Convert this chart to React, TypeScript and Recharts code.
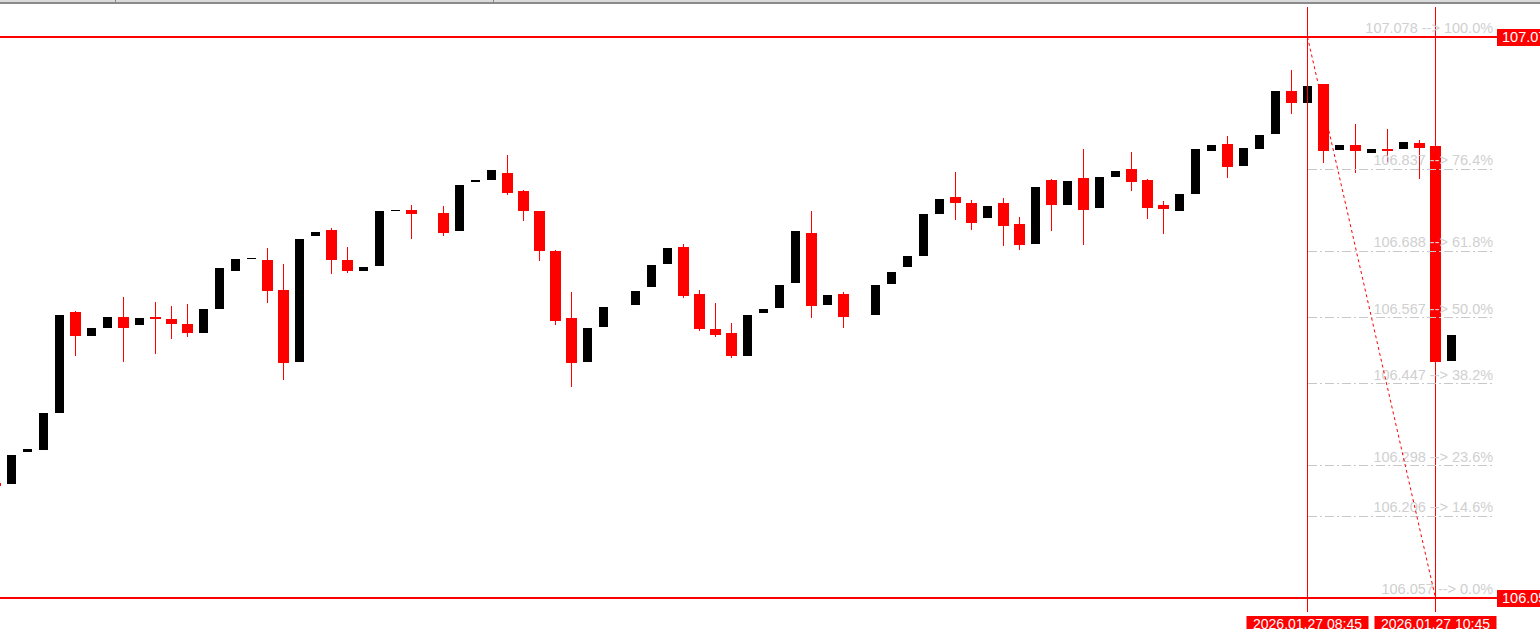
import React from 'react';
import { ComposedChart, Bar, XAxis, YAxis, ReferenceLine } from 'recharts';

// ---- data ----
const barIndex = [
  -1, 0, 1, 2, 3, 4, 5, 6, 7, 8, 9,
  10, 11, 12, 13, 14, 15, 16, 17, 18, 19,
  20, 21, 22, 23, 24, 25, 27, 28, 29,
  30, 31, 32, 33, 34, 35, 36, 37, 39,
  40, 41, 42, 43, 44, 45, 46, 47, 48, 49,
  50, 51, 52, 54, 55, 56, 57, 58, 59,
  60, 61, 62, 63, 64, 65, 66, 67, 68, 69,
  70, 71, 72, 73, 74, 75, 76, 77, 78, 79,
  80, 81, 82, 83, 84, 85, 86, 87, 88, 89, 90,
];
const opens = [
  106.266, 106.264, 106.323, 106.326, 106.394, 106.577, 106.534, 106.548, 106.568, 106.554, 106.568,
  106.565, 106.556, 106.539, 106.583, 106.652, 106.674, 106.672, 106.617, 106.486, 106.716,
  106.727, 106.672, 106.652, 106.661, 106.761, 106.763, 106.758, 106.725, 106.814,
  106.818, 106.830, 106.798, 106.761, 106.688, 106.567, 106.486, 106.550, 106.590,
  106.623, 106.665, 106.696, 106.610, 106.547, 106.539, 106.497, 106.576, 106.585, 106.630,
  106.721, 106.590, 106.610, 106.572, 106.628, 106.659, 106.679, 106.756, 106.787,
  106.776, 106.749, 106.776, 106.738, 106.701, 106.818, 106.772, 106.821, 106.767, 106.823,
  106.838, 106.818, 106.772, 106.761, 106.792, 106.870, 106.883, 106.843, 106.874, 106.901,
  106.980, 106.958, 106.992, 106.872, 106.881, 106.867, 106.874, 106.874, 106.885, 106.880, 106.488,
];
const highs = [
  106.267, null, null, null, null, 106.579, null, null, 106.605, null, 106.596,
  106.588, 106.592, null, null, null, null, 106.694, 106.665, null, null,
  106.730, 106.696, null, null, null, 106.772, 106.770, null, null,
  null, 106.863, 106.799, 106.762, 106.690, 106.614, null, null, null,
  null, null, 106.701, 106.617, 106.594, 106.557, null, null, null, null,
  106.761, null, 106.614, null, null, null, null, null, 106.832,
  106.781, null, 106.785, 106.750, null, 106.819, null, 106.874, null, null,
  106.869, 106.819, 106.780, null, null, null, 106.898, null, null, null,
  107.018, 107.078, 106.993, null, 106.920, null, 106.911, null, 106.891, 106.885, null,
];
const lows = [
  106.260, null, null, null, null, 106.497, null, null, 106.486, null, 106.501,
  106.528, 106.532, null, null, null, null, 106.594, 106.454, null, null,
  106.647, 106.649, null, null, null, 106.710, 106.716, null, null,
  null, 106.790, 106.743, 106.670, 106.554, 106.441, null, null, null,
  null, null, 106.603, 106.543, 106.532, 106.494, null, null, null, null,
  106.567, null, 106.548, null, null, null, null, null, 106.745,
  106.727, null, 106.698, 106.690, null, 106.725, null, 106.699, null, null,
  106.798, 106.747, 106.719, null, null, null, 106.821, null, null, null,
  106.938, null, 106.849, null, 106.830, null, 106.850, null, 106.820, 106.057, null,
];
const closes = [
  106.261, 106.317, 106.328, 106.394, 106.572, 106.534, 106.548, 106.568, 106.548, 106.567, 106.565,
  106.556, 106.539, 106.583, 106.658, 106.674, 106.676, 106.616, 106.485, 106.710, 106.723,
  106.672, 106.652, 106.659, 106.761, 106.763, 106.756, 106.721, 106.809, 106.818,
  106.836, 106.794, 106.761, 106.688, 106.561, 106.485, 106.548, 106.587, 106.616,
  106.663, 106.694, 106.607, 106.547, 106.536, 106.497, 106.572, 106.583, 106.627, 106.725,
  106.588, 106.608, 106.568, 106.627, 106.650, 106.679, 106.756, 106.783, 106.776,
  106.739, 106.770, 106.734, 106.699, 106.805, 106.772, 106.816, 106.763, 106.823, 106.834,
  106.814, 106.767, 106.765, 106.792, 106.874, 106.881, 106.841, 106.876, 106.900, 106.980,
  106.958, 106.989, 106.870, 106.881, 106.870, 106.874, 106.870, 106.887, 106.876, 106.486, 106.536,
];

const fibPrices = [107.078, 106.837, 106.688, 106.567, 106.447, 106.298, 106.206, 106.057];
const fibLabels = ['100.0%', '76.4%', '61.8%', '50.0%', '38.2%', '23.6%', '14.6%', '0.0%'];
const fibStartBar = 81;
const fibEndBar = 89;
const fibHigh = 107.078;
const fibLow = 106.057;
const timeLabels = ['2026.01.27 08:45', '2026.01.27 10:45'];
const xDomain = [-0.71875, 92.84375];
const yDomain = [106.0315, 107.1326];
const fibLineEnd = 92.6;

const data = barIndex.map((i, k) => {
  const o = opens[k];
  const c = closes[k];
  const h = highs[k] ?? Math.max(o, c);
  const l = lows[k] ?? Math.min(o, c);
  return { i, o, c, h, l };
});

const RED = '#ff0000';
const FONT = '"Liberation Sans", Arial, sans-serif';

const Candle = (props: any) => {
  const { x, y, width, height, payload } = props;
  if (x == null || y == null || !payload) return null;
  const top = Math.min(y, y + height);
  const hh = Math.abs(height);
  const { o, c, h, l } = payload;
  const ppu = h - l > 0 ? hh / (h - l) : 0;
  const bTop = top + (h - Math.max(o, c)) * ppu;
  const bBot = top + (h - Math.min(o, c)) * ppu;
  const bear = c < o;
  const cx = Math.round(x + width / 2) + 0.5;
  const rt = Math.round(bTop);
  const rb = Math.max(Math.round(bBot), rt + 1);
  if (bear) {
    return (
      <g>
        <line x1={cx} x2={cx} y1={Math.round(top)} y2={Math.round(top + hh)} stroke={RED} strokeWidth={1} />
        <rect x={Math.round(x)} y={rt} width={Math.round(width)} height={Math.max(rb - rt, 1)} fill={RED} />
      </g>
    );
  }
  return <rect x={Math.round(x) + 1} y={rt} width={Math.round(width) - 2} height={Math.max(rb - rt, 1)} fill="#000" />;
};

const PriceTag = (props: any) => {
  const { viewBox, text } = props;
  if (!viewBox) return null;
  const x = viewBox.x + viewBox.width;
  const y = Math.round(viewBox.y);
  return (
    <g>
      <rect x={x} y={y - 8} width={60} height={17} fill={RED} />
      <text x={x + 5} y={y + 5} fill="#fff" fontSize={14.5} fontFamily={FONT}>{text}</text>
    </g>
  );
};

const TimeTag = (props: any) => {
  const { viewBox, text } = props;
  if (!viewBox) return null;
  const x = viewBox.x;
  const y = viewBox.y + viewBox.height;
  return (
    <g>
      <rect x={x - 61} y={y + 4} width={122} height={20} fill={RED} />
      <text x={x} y={y + 17} fill="#fff" fontSize={14} fontFamily={FONT} textAnchor="middle">{text}</text>
    </g>
  );
};

const FibTag = (props: any) => {
  const { viewBox, text } = props;
  if (!viewBox) return null;
  const x = viewBox.x + viewBox.width;
  const y = viewBox.y;
  return (
    <text x={x} y={y - 4} fill="#d0d0d0" fontSize={14.5} fontFamily={FONT} textAnchor="end">{text}</text>
  );
};

export default function App() {
  return (
    <div style={{ position: 'absolute', left: 0, top: 0, width: 1540, height: 629, overflow: 'hidden', background: '#fff' }}>
      <ComposedChart width={1540} height={629} data={data} margin={{ top: 7, right: 43, bottom: 17, left: 0 }}>
        <XAxis type="number" dataKey="i" domain={xDomain} allowDataOverflow hide />
        <YAxis type="number" domain={yDomain} allowDataOverflow hide />
        <Bar dataKey={(d: any) => [d.l, d.h]} barSize={11} shape={<Candle />} isAnimationActive={false} />
        <ReferenceLine y={fibHigh} stroke={RED} strokeWidth={2} label={<PriceTag text={fibHigh.toFixed(3)} />} />
        <ReferenceLine y={fibLow} stroke={RED} strokeWidth={2} label={<PriceTag text={fibLow.toFixed(3)} />} />
        <ReferenceLine x={fibStartBar} stroke={RED} strokeWidth={1} shapeRendering="crispEdges" label={<TimeTag text={timeLabels[0]} />} />
        <ReferenceLine x={fibEndBar} stroke={RED} strokeWidth={1} shapeRendering="crispEdges" label={<TimeTag text={timeLabels[1]} />} />
        {fibPrices.map((p, k) => (
          <ReferenceLine
            key={'fib' + k}
            segment={[{ x: fibStartBar, y: p }, { x: fibLineEnd, y: p }]}
            stroke={k === 0 || k === fibPrices.length - 1 ? 'none' : '#c8c8c8'}
            strokeDasharray="9 3 2 3"
            shapeRendering="crispEdges"
            label={<FibTag text={`${p.toFixed(3)} --> ${fibLabels[k]}`} />}
          />
        ))}
        <ReferenceLine
          segment={[{ x: fibStartBar, y: fibHigh }, { x: fibEndBar, y: fibLow }]}
          stroke={RED}
          strokeDasharray="3 3"
        />
      </ComposedChart>
      <div style={{ position: 'absolute', left: 0, top: 0, width: 1540, height: 2, background: '#dadada' }} />
      <div style={{ position: 'absolute', left: 0, top: 2, width: 1540, height: 2, background: '#8a8a8a' }} />
      <div style={{ position: 'absolute', left: 115, top: 0, width: 1, height: 2, background: '#8a8a8a' }} />
      <div style={{ position: 'absolute', left: 493, top: 0, width: 1, height: 2, background: '#8a8a8a' }} />
    </div>
  );
}
